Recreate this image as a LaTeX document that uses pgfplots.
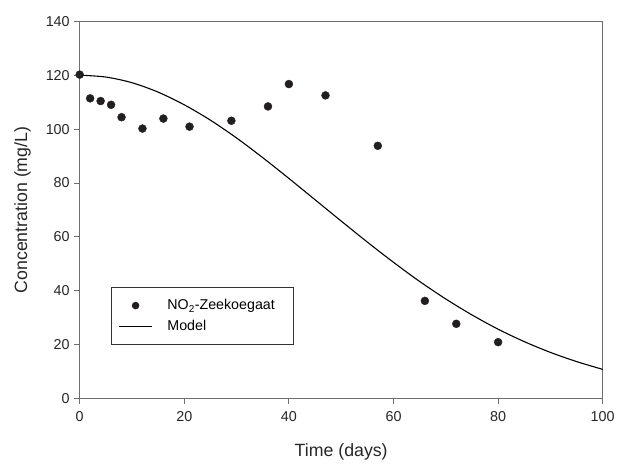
\documentclass[border=0pt]{standalone}
\usepackage{fontspec}
\setmainfont{Liberation Sans}
\usepackage{pgfplots}
\pgfplotsset{compat=1.18}
\definecolor{dotc}{HTML}{231F20}
\definecolor{spine}{HTML}{6E6E6E}
\pgfplotsset{
  dotlegend/.style={legend image code/.code={%
    \draw[##1, mark size=3.3pt] plot coordinates {(16.5pt,0pt)};
    \path (0pt,0pt) (33pt,0pt);}},
  linelegend/.style={legend image code/.code={%
    \draw[##1, line width=0.9pt] (0pt,0pt) -- (33pt,0pt);}},
}

\begin{document}
\begin{tikzpicture}
\begin{axis}[
  scale only axis,
  width=525pt, height=379pt,
  xmin=0, xmax=100, ymin=0, ymax=140,
  xtick={0,20,...,100}, ytick={0,20,...,140},
  /pgf/number format/assume math mode=true,
  tick align=outside, xtick pos=bottom, ytick pos=left,
  major tick length=5.5pt,
  tick style={spine, line width=1pt},
  axis line style={spine, line width=1.2pt},
  ticklabel style={font=\fontsize{14.4}{16}\selectfont, text=black!85},
  xticklabel style={yshift=-4pt},
  yticklabel style={xshift=-1pt},
  xlabel={Time (days)}, ylabel={Concentration (mg/L)},
  every axis x label/.style={at={(axis description cs:0.5,0)}, anchor=base, yshift=-57.8pt,
    font=\fontsize{17.8}{20}\selectfont, text=black!85},
  every axis y label/.style={at={(axis description cs:-0.1095,0.5)}, anchor=center, rotate=90,
    font=\fontsize{17.8}{20}\selectfont, text=black!85},
  legend style={at={(axis description cs:0.0604,0.142)}, anchor=south west,
    draw=black!80, line width=0.9pt, font=\fontsize{14.3}{16}\selectfont,
    inner xsep=7pt, inner ysep=10.5pt, row sep=5pt, column sep=13pt},
  legend cell align=left,
]
\addplot[only marks, mark=*, mark size=4pt, color=dotc, dotlegend]
  coordinates {
  (0,120.2) (2,111.4) (4,110.4) (6,109.0) (8,104.4) (12,100.2) (16,103.9)
  (21,100.9) (29,103.1) (36,108.4) (40,116.7) (47,112.5) (57,93.8)
  (66,36.3) (72,27.8) (80,21.0)
  };
\addlegendentry{NO\textsubscript{2}-Zeekoegaat\hspace*{10pt}}
\addplot[black, line width=1.1pt, smooth, linelegend]
  coordinates {
  (0,120.0) (5,119.3) (10,117.2) (15,113.7) (20,109.0) (25,103.3) (30,96.7)
  (35,89.4) (40,81.7) (45,73.8) (50,65.9) (55,58.1) (60,50.6) (65,43.5)
  (70,37.0) (75,31.1) (80,25.8) (85,21.2) (90,17.2) (95,13.8) (100,10.9)
  };
\addlegendentry{Model}
\end{axis}
\path ([xshift=-80pt,yshift=-61.5pt]current axis.south west) ([xshift=13pt,yshift=21.3pt]current axis.north east);
\end{tikzpicture}
\end{document}
